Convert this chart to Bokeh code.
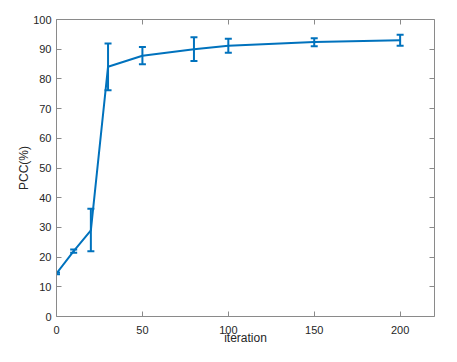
from bokeh.plotting import figure
from bokeh.models import ColumnDataSource, Whisker, TeeHead, LinearAxis, Range1d, FixedTicker
from bokeh.embed import file_html
from bokeh.resources import INLINE

iteration = [0, 10, 20, 30, 50, 80, 100, 150, 200]
pcc = [14.5, 22.0, 29.0, 84.1, 87.8, 90.0, 91.2, 92.4, 93.0]
pcc_upper = [14.8, 22.6, 36.3, 91.9, 90.7, 94.0, 93.5, 93.7, 94.9]
pcc_lower = [14.2, 21.5, 22.0, 76.2, 84.9, 86.0, 88.8, 91.0, 91.2]

x_ticks = [0, 50, 100, 150, 200]
y_ticks = [0, 10, 20, 30, 40, 50, 60, 70, 80, 90, 100]

BLUE = "#0072BD"
AXL = "#8a8a8a"
TXT = "#262626"
FONT = "Liberation Sans"

p = figure(width=441, height=354, output_backend="svg", toolbar_location=None,
           x_range=Range1d(0, 220), y_range=Range1d(0, 100),
           min_border_left=56, min_border_right=7, min_border_top=19, min_border_bottom=38)
p.xgrid.visible = False
p.ygrid.visible = False
p.outline_line_color = None

src = ColumnDataSource(dict(x=iteration, y=pcc, up=pcc_upper, lo=pcc_lower))
p.line("x", "y", source=src, line_color=BLUE, line_width=2)
w = Whisker(base="x", upper="up", lower="lo", source=src, line_color=BLUE, line_width=2,
            upper_head=TeeHead(size=7, line_color=BLUE, line_width=2),
            lower_head=TeeHead(size=7, line_color=BLUE, line_width=2))
p.add_layout(w)

def style(ax, ticks, labels=True):
    ax.ticker = FixedTicker(ticks=ticks)
    ax.axis_line_color = AXL
    ax.axis_line_width = 1
    ax.major_tick_line_color = AXL
    ax.major_tick_in = 5
    ax.major_tick_out = 0
    ax.minor_tick_line_color = None
    ax.major_label_text_font = FONT
    ax.major_label_text_font_size = "11px"
    ax.major_label_text_color = TXT if labels else None
    ax.axis_label_text_font = FONT
    ax.axis_label_text_font_size = "12px"
    ax.axis_label_text_font_style = "normal"
    ax.axis_label_text_color = TXT
    ax.major_label_standoff = 5

style(p.xaxis[0], x_ticks)
style(p.yaxis[0], y_ticks)
p.xaxis[0].axis_label = "iteration"
p.yaxis[0].axis_label = "PCC(%)"
p.xaxis[0].major_label_standoff = 9
p.xaxis[0].axis_label_standoff = -6
p.yaxis[0].axis_label_standoff = -1

top = LinearAxis()
style(top, x_ticks, labels=False)
top.major_label_text_font_size = "0px"
top.major_label_standoff = 0
p.add_layout(top, "above")
right = LinearAxis()
style(right, y_ticks, labels=False)
right.major_label_text_font_size = "0px"
right.major_label_standoff = 0
p.add_layout(right, "right")

open("out.html", "w").write(file_html(p, INLINE))
